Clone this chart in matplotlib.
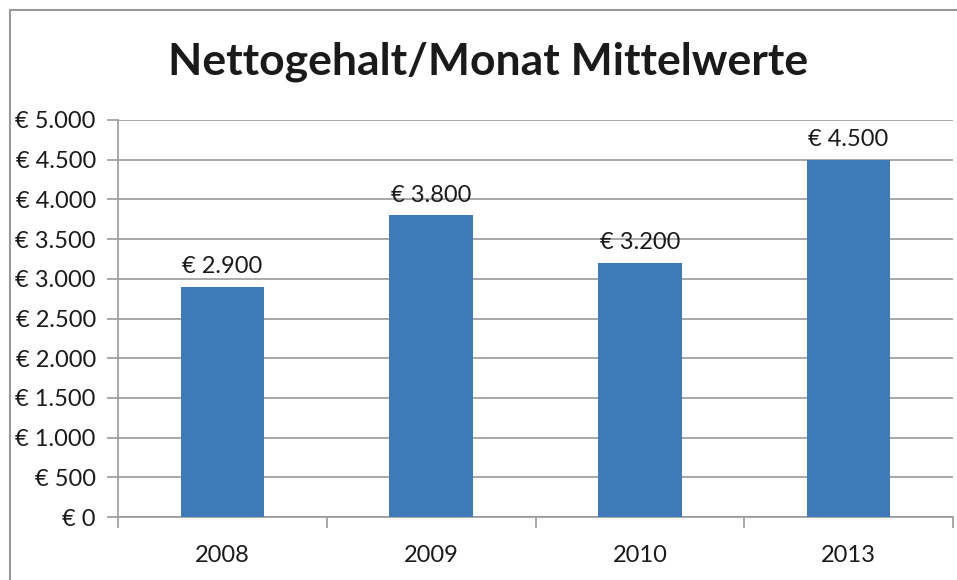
import matplotlib.pyplot as plt
from matplotlib.patches import Rectangle

plt.rcParams['font.family'] = ['Lato', 'DejaVu Sans']

jahre = ['2008', '2009', '2010', '2013']
gehalt = [2900, 3800, 3200, 4500]
y_ticks = [0, 500, 1000, 1500, 2000, 2500, 3000, 3500, 4000, 4500, 5000]


def euro(v):
    return "€ " + f"{v:,}".replace(",", ".")


fig = plt.figure(figsize=(9.57, 5.80), dpi=100)
ax = fig.add_axes([118 / 957, 1 - 517 / 580, 835 / 957, 397 / 580])

grau = '#9a9a9a'
x = range(len(jahre))
bars = ax.bar(x, gehalt, width=0.4, color='#3e79b8', zorder=3)

for i, v in enumerate(gehalt):
    ax.text(i, v + 120, euro(v), ha='center', va='bottom', fontsize=17, color='#1a1a1a')

ax.set_xlim(-0.5, len(jahre) - 0.5)
ax.set_ylim(0, 5000)
ax.set_yticks(y_ticks)
ax.set_yticklabels([euro(t) for t in y_ticks], fontsize=17, color='#1a1a1a')
ax.set_xticks(list(x))
ax.set_xticklabels(jahre, fontsize=17, color='#1a1a1a')
ax.set_xticks([i - 0.5 for i in range(len(jahre) + 1)], minor=True)

ax.grid(axis='y', color=grau, linewidth=1.2, zorder=0)
ax.tick_params(axis='y', length=8, width=1.2, color=grau, pad=8)
ax.tick_params(axis='x', which='major', length=0, pad=20)
ax.tick_params(axis='x', which='minor', length=8, width=1.2, color=grau)
for s in ['top', 'right']:
    ax.spines[s].set_visible(False)
for s in ['left', 'bottom']:
    ax.spines[s].set_color(grau)
    ax.spines[s].set_linewidth(1.2)

fig.text(488 / 957, 1 - 62 / 580, 'Nettogehalt/Monat Mittelwerte', ha='center', va='center',
         fontsize=32, fontweight='bold', color='#1a1a1a')

# Rahmen um das Diagramm (rechts und unten abgeschnitten)
fig.patches.append(Rectangle((10 / 957, -0.1), 1.2, 1 - 10 / 580 + 0.1, transform=fig.transFigure,
                             fill=False, edgecolor=grau, linewidth=1.5))

fig.savefig('out.png', dpi=100)
